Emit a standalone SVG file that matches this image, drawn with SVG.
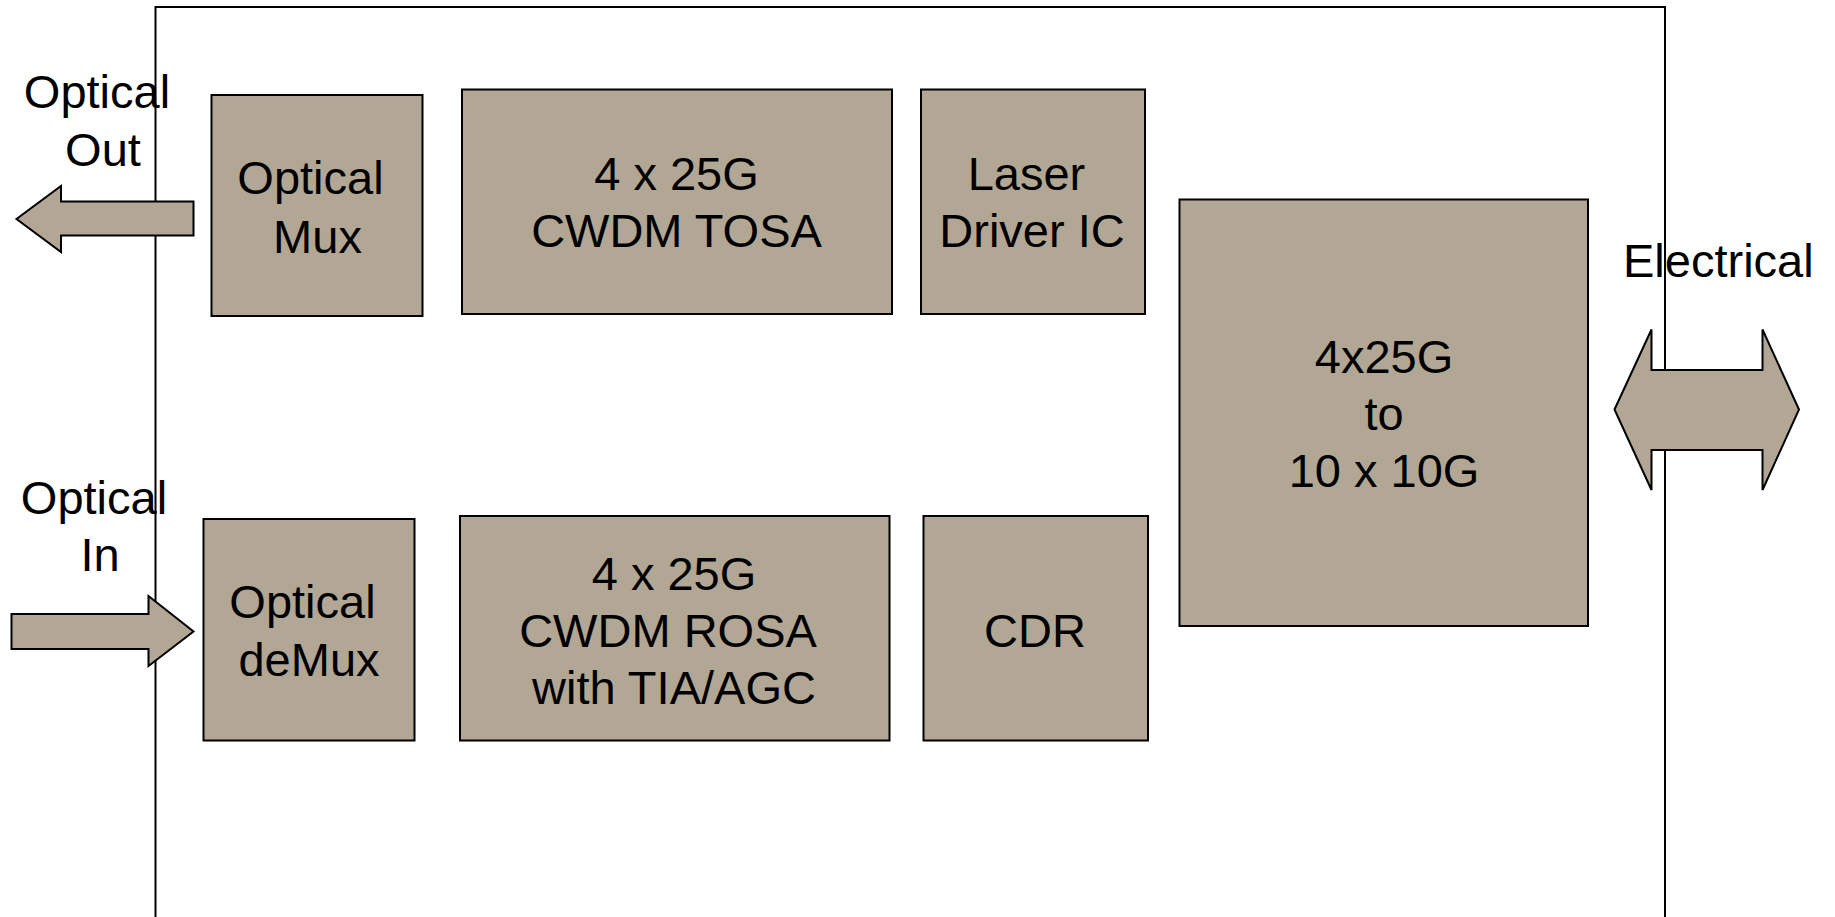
<svg xmlns="http://www.w3.org/2000/svg" width="1835" height="917" viewBox="0 0 1835 917">
<style>
.box{fill:#B1A794;stroke:#000;stroke-width:2}
.arr{fill:#B1A794;stroke:#000;stroke-width:2;stroke-linejoin:miter}
.frame{fill:none;stroke:#000;stroke-width:2}
text{font-family:"Liberation Sans",Arial,sans-serif;font-size:47px;fill:#000;text-anchor:middle}
</style>
<rect width="1835" height="917" fill="#fff"/>
<g id="module">
<path class="frame" d="M155.5,930 V7 H1665 V930"/>
</g>
<g id="connectors">
<polygon id="optical-out-arrow" class="arr" points="193.5,201.5 193.5,235.5 61,235.5 61,252 16.5,219 61,186 61,201.5"/>
<polygon id="optical-in-arrow" class="arr" points="11.5,614 148.5,614 148.5,596 193.5,631.5 148.5,666 148.5,649 11.5,649"/>
<polygon id="electrical-arrow" class="arr" points="1614.5,409.5 1651.5,329.5 1651.5,370 1762.5,370 1762.5,329.5 1799,409.5 1762.5,490 1762.5,450 1651.5,450 1651.5,490"/>
</g>
<g id="label-optical-out">
<text x="97" y="108">Optical</text>
<text x="103" y="165.5">Out</text>
</g>
<g id="label-optical-in">
<text x="94" y="513.5">Optical</text>
<text x="100" y="571">In</text>
</g>
<g id="label-electrical">
<text x="1623" y="277" style="text-anchor:start">Electrical</text>
</g>
<g id="optical-mux">
<rect class="box" x="211.5" y="95" width="211" height="221"/>
<text x="310.5" y="194">Optical</text>
<text x="317.5" y="253">Mux</text>
</g>
<g id="tosa">
<rect class="box" x="462" y="89.5" width="430" height="224.5"/>
<text x="676.5" y="190">4 x 25G</text>
<text x="676.5" y="246.5">CWDM TOSA</text>
</g>
<g id="laser-driver">
<rect class="box" x="921" y="89.5" width="224" height="224.5"/>
<text x="1026.5" y="189.5">Laser</text>
<text x="1032" y="246.5">Driver IC</text>
</g>
<g id="optical-demux">
<rect class="box" x="203.5" y="519" width="211" height="221.5"/>
<text x="302.5" y="617.5">Optical</text>
<text x="309" y="676">deMux</text>
</g>
<g id="rosa">
<rect class="box" x="460" y="516" width="429.5" height="224.5"/>
<text x="674" y="589.5">4 x 25G</text>
<text x="668" y="646.5">CWDM ROSA</text>
<text x="674" y="703.5">with TIA/AGC</text>
</g>
<g id="cdr">
<rect class="box" x="923.5" y="516" width="224.5" height="224.5"/>
<text x="1035" y="646.5">CDR</text>
</g>
<g id="gearbox">
<rect class="box" x="1179.5" y="199.5" width="408.5" height="426.5"/>
<text x="1384" y="372.5">4x25G</text>
<text x="1384" y="429.5">to</text>
<text x="1384" y="486.5">10 x 10G</text>
</g>
</svg>
